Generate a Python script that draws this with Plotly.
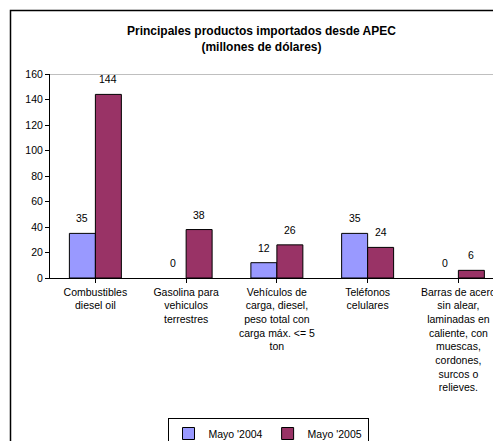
import plotly.graph_objects as go

categories = [
    "Combustibles<br>diesel oil",
    "Gasolina para<br>vehiculos<br>terrestres",
    "Vehículos de<br>carga, diesel,<br>peso total con<br>carga máx. <= 5<br>ton",
    "Teléfonos<br>celulares",
    "Barras de acero<br>sin alear,<br>laminadas en<br>caliente, con<br>muescas,<br>cordones,<br>surcos o<br>relieves.",
]
may_2004 = [35, 0, 12, 35, 0]
may_2005 = [144, 38, 26, 24, 6]
series_names = ["Mayo '2004", "Mayo '2005"]
y_ticks = [0, 20, 40, 60, 80, 100, 120, 140, 160]

OFF = 8  # page body margin
W, H = 501 - OFF, 441 - OFF
L, R, T = 50 - OFF, 0, 74 - OFF
B = H - (278 - OFF)
pw = W - L - R
ph = H - T - B

xs = list(range(len(categories)))
bar_w = 0.2865

fig = go.Figure()
fig.add_trace(go.Bar(x=xs, y=may_2004, name=series_names[0], width=bar_w, offset=-bar_w,
                     marker=dict(color="#9999FF",
                                 line=dict(color="#000000", width=[1 if v else 0 for v in may_2004]))))
fig.add_trace(go.Bar(x=xs, y=may_2005, name=series_names[1], width=bar_w, offset=0,
                     marker=dict(color="#993366",
                                 line=dict(color="#000000", width=[1 if v else 0 for v in may_2005]))))

font = "Arial, Liberation Sans, sans-serif"
anns = []
for i, v in enumerate(may_2004):
    anns.append(dict(x=i - bar_w / 2, y=v, xref="x", yref="y", text=str(v), showarrow=False,
                     yshift=15, font=dict(size=10.5, color="#000"), yanchor="middle"))
for i, v in enumerate(may_2005):
    anns.append(dict(x=i + bar_w / 2, y=v, xref="x", yref="y", text=str(v), showarrow=False,
                     yshift=15, font=dict(size=10.5, color="#000"), yanchor="middle"))

anns.append(dict(x=(261 - OFF - L) / pw, y=1 + (T - (39 - OFF)) / ph, xref="paper", yref="paper",
                 text="<b>Principales productos importados desde APEC<br>(millones de dólares)</b>",
                 showarrow=False, font=dict(size=12, color="#000"), xanchor="center", yanchor="middle"))

shapes = [
    dict(type="rect", xref="paper", yref="paper", x0=(10.5 - OFF - L) / pw, x1=1.1,
         y0=-1.2, y1=1 + (T - (10.5 - OFF)) / ph, line=dict(color="#000000", width=1.5)),
    dict(type="line", xref="paper", yref="y", x0=0, x1=1, y0=160, y1=160,
         line=dict(color="#808080", width=1)),
]

fig.update_layout(
    width=W, height=H, margin=dict(l=L, r=R, t=T, b=B, autoexpand=False),
    paper_bgcolor="white", plot_bgcolor="white",
    font=dict(family=font, size=10.5, color="#000"),
    barmode="group", showlegend=True,
    legend=dict(orientation="h", x=(268 - OFF - L) / pw, xanchor="center",
                y=-(418 - 278) / ph, yanchor="top", bordercolor="#000", borderwidth=1,
                font=dict(size=10.5), itemwidth=30, tracegroupgap=0),
    annotations=anns, shapes=shapes,
    xaxis=dict(range=[-0.5, -0.5 + pw / 90.75], tickvals=xs, ticktext=categories,
               tickangle=0, showline=True, linecolor="#000", linewidth=1,
               ticks="outside", ticklen=4, tickcolor="#000", tickson="boundaries",
               showgrid=False, zeroline=False, tickfont=dict(size=10.5), automargin=False),
    yaxis=dict(range=[0, 160], tickvals=y_ticks, showline=True, linecolor="#000", linewidth=1,
               ticks="outside", ticklen=4, tickcolor="#000", showgrid=False, zeroline=False,
               tickfont=dict(size=10.5), automargin=False),
)

fig.write_html("out.html")
